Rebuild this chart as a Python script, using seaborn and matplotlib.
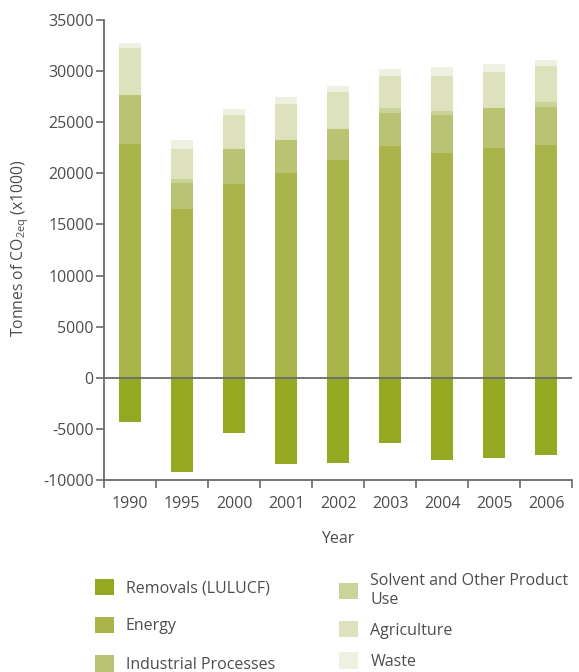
import matplotlib
matplotlib.use("Agg")
import matplotlib.pyplot as plt
from matplotlib.patches import Patch
import numpy as np
import pandas as pd
import seaborn as sns

sns.set_theme(style="white")
plt.rcParams["font.family"] = ["Open Sans", "DejaVu Sans"]
plt.rcParams["axes.unicode_minus"] = False

# ---------------------------------------------------------------
# DATA (tonnes CO2eq x1000)
# ---------------------------------------------------------------
years = ["1990", "1995", "2000", "2001", "2002", "2003", "2004", "2005", "2006"]
removals = [-4310, -9190, -5460, -8430, -8330, -6370, -8040, -7840, -7550]
energy = [22840, 16470, 18920, 20000, 21280, 22650, 21960, 22450, 22750]
industrial = [4800, 2550, 3430, 3240, 3040, 3240, 3730, 3920, 3730]
solvent = [0, 390, 0, 0, 0, 490, 390, 0, 490]
agriculture = [4610, 2940, 3330, 3530, 3630, 3140, 3430, 3530, 3530]
waste = [490, 880, 590, 690, 590, 690, 880, 780, 590]

labels = ["Removals (LULUCF)", "Energy", "Industrial Processes",
          "Solvent and Other Product\nUse", "Agriculture", "Waste"]
colors = ["#95a822", "#a9b44b", "#bac373", "#cad398", "#dde1bc", "#eef0e1"]

df = pd.DataFrame({
    "Year": years,
    "Energy": energy,
    "Industrial": industrial,
    "Solvent": solvent,
    "Agriculture": agriculture,
    "Waste": waste,
})
stack_cols = ["Energy", "Industrial", "Solvent", "Agriculture", "Waste"]
cum = df[stack_cols].cumsum(axis=1)
cum["Year"] = years

fig = plt.figure(figsize=(5.79, 6.72), dpi=100)
ax = fig.add_axes([0.18, 0.286, 0.808, 0.684])

text_col = "#4d4d4d"
axis_col = "#6b6b6b"
fs = 11.5
bw = 0.42

# draw cumulative layers, tallest first so lower layers cover them
for col, c in zip(stack_cols[::-1], colors[1:][::-1]):
    sns.barplot(data=cum, x="Year", y=col, color=c, width=bw,
                saturation=1, ax=ax, order=years, linewidth=0, edgecolor="none")
sns.barplot(x=years, y=removals, color=colors[0], width=bw,
            saturation=1, ax=ax, order=years, linewidth=0, edgecolor="none")

ax.axhline(0, color=axis_col, lw=1.3, zorder=5)

ax.set_xlim(-0.5, len(years) - 0.5)
ax.set_ylim(-10000, 35000)
ax.set_yticks(np.arange(-10000, 35001, 5000))
ax.set_xticks(np.arange(len(years)))
ax.set_xticklabels(years)
ax.set_xticks(np.arange(len(years) + 1) - 0.5, minor=True)
ax.tick_params(axis="x", which="major", length=0, pad=12, labelsize=fs, colors=text_col)
ax.tick_params(axis="x", which="minor", length=5.5, width=1.2, color=axis_col, direction="out")
ax.tick_params(axis="y", length=6, width=1.2, color=axis_col, direction="out",
               labelsize=fs, labelcolor=text_col, pad=1.5)
ax.xaxis.set_tick_params(bottom=True, which="both")
ax.yaxis.set_tick_params(left=True)

for s in ["top", "right"]:
    ax.spines[s].set_visible(False)
for s in ["left", "bottom"]:
    ax.spines[s].set_color(axis_col)
    ax.spines[s].set_linewidth(1.3)

ax.set_xlabel("Year", fontsize=fs, color=text_col, labelpad=13)
ax.set_ylabel(r"Tonnes of CO$_{\mathregular{2eq}}$ (x1000)", fontsize=11.3,
              color=text_col)
ax.yaxis.set_label_coords(-0.156, 0.505)

handles = [Patch(facecolor=c, edgecolor="none") for c in colors]
leg_kw = dict(loc="upper left", frameon=False, fontsize=fs, labelcolor=text_col,
              handlelength=1.2, handleheight=1.2, handletextpad=0.75, borderpad=0)
fig.legend(handles[:3], labels[:3], bbox_to_anchor=(0.150, 0.151),
           labelspacing=1.3, **leg_kw)
fig.legend(handles[3:], labels[3:], bbox_to_anchor=(0.572, 0.159),
           labelspacing=0.85, **leg_kw)

fig.savefig("out.png", dpi=100)
